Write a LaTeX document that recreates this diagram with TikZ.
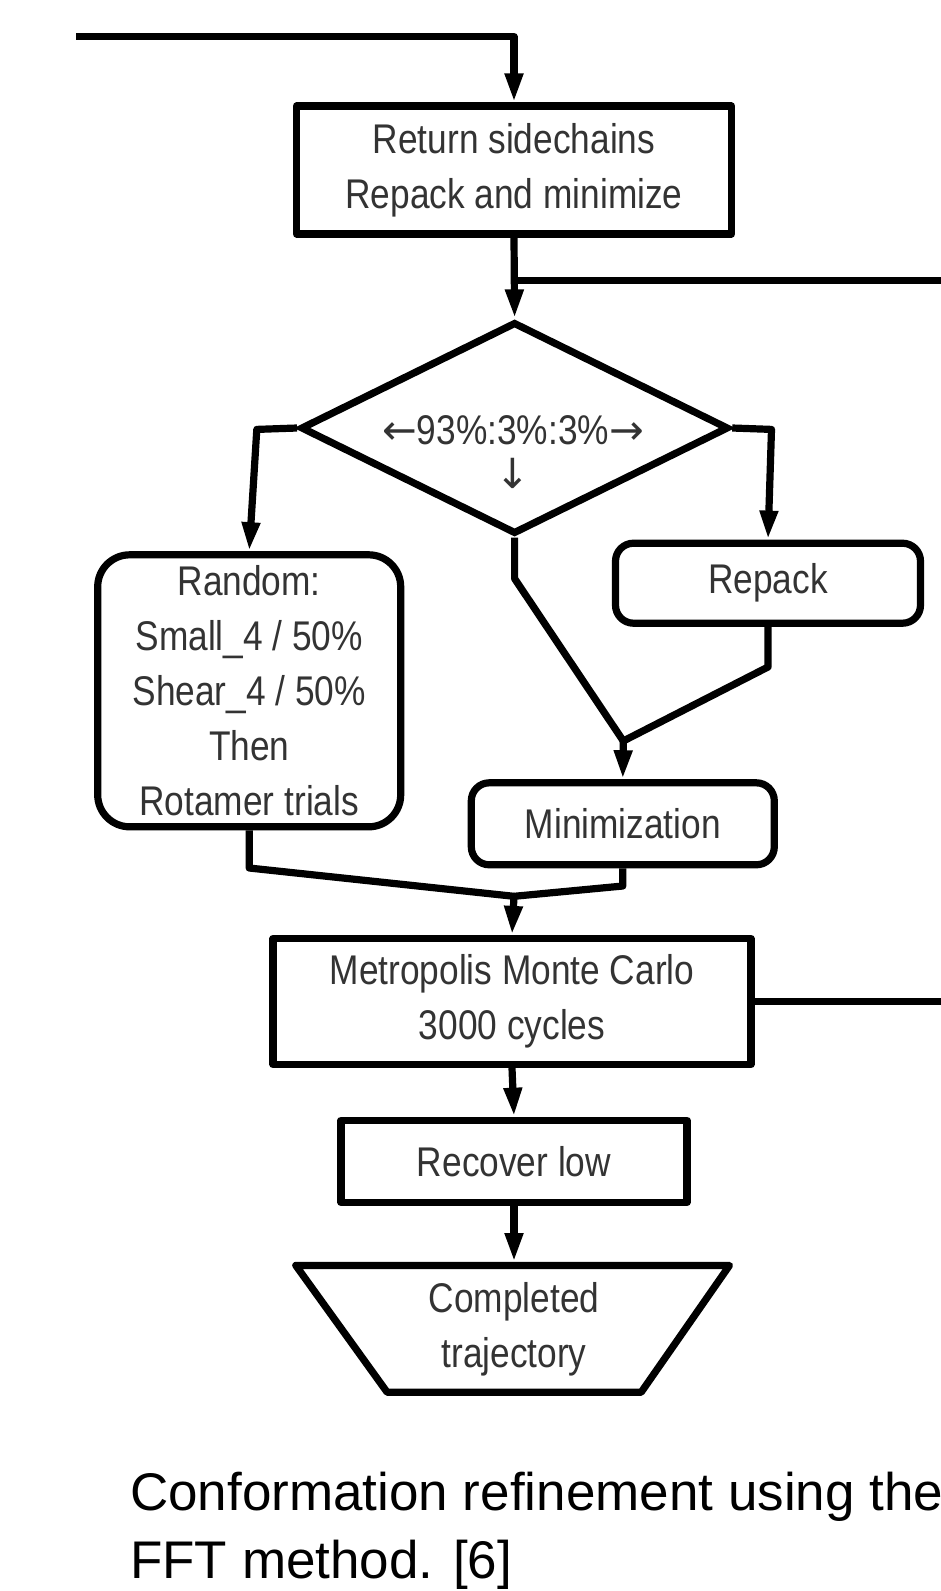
\documentclass[tikz,border=0pt]{standalone}
\usepackage{fontspec}
\setmainfont{Liberation Sans}
\newfontfamily\dfont[FakeStretch=0.85]{Liberation Sans}
\newfontfamily\arrfont{DejaVu Sans}
\usetikzlibrary{arrows.meta,shapes.geometric,calc}
\definecolor{txtgray}{HTML}{333333}
\tikzset{
  line/.style={line width=7.2pt, line join=round},
  arr/.style={line, -{Triangle[length=29pt,width=17pt]}},
  boxbase/.style={draw, line width=7.2pt, line join=round, align=center, inner sep=0pt,
    text=txtgray, font=\dfont\fontsize{41.5}{55}\selectfont},
  sqbox/.style={boxbase, rectangle},
  rbox/.style={boxbase, rectangle, rounded corners=18pt},
  bigrbox/.style={boxbase, rectangle, rounded corners=32pt},
  dtxt/.style={align=center, inner sep=0pt, text=txtgray, font=\dfont\fontsize{41.5}{44}\selectfont},
  captxt/.style={anchor=base west, inner sep=0pt, font=\fontsize{53}{68}\selectfont}
}
\begin{document}
\begin{tikzpicture}[x=1pt,y=-1pt]
\path[use as bounding box, clip] (0,0) rectangle (941,1591);
\fill[white] (0,0) rectangle (941,1591);

% nodes
\node[sqbox, minimum width=435pt, minimum height=128pt] (b1) at (514,170) {Return sidechains\\Repack and minimize};
\node[draw, diamond, line width=7.2pt, line join=miter, minimum width=428pt, minimum height=212pt, inner sep=0pt] (dia) at (514.6,428) {};
\node[dtxt] (dlab) at (513,452) {{\arrfont ←}93\%:3\%:3\%{\arrfont →}\\{\arrfont ↓}};
\node[bigrbox, minimum width=303pt, minimum height=272pt] (rand) at (249.2,690.8) {Random:\\Small\_4 / 50\%\\Shear\_4 / 50\%\\Then\\Rotamer trials};
\node[rbox, minimum width=305pt, minimum height=80pt] (rep) at (768,583.2) {Repack};
\node[rbox, minimum width=303pt, minimum height=82pt] (min) at (622.8,823.8) {Minimization};
\node[sqbox, minimum width=478pt, minimum height=126pt] (met) at (512,1001.5) {Metropolis Monte Carlo\\3000 cycles};
\node[sqbox, minimum width=346pt, minimum height=82pt] (rec) at (514,1161.3) {Recover low};
\node[dtxt, font=\dfont\fontsize{41.5}{55}\selectfont] (traj) at (514,1328.8) {Completed\\trajectory};

% trapezoid outline
\coordinate (ttl) at (295.8,1265.4);
\coordinate (ttr) at (729.5,1265.4);
\coordinate (tbr) at (641.2,1392.2);
\coordinate (tbl) at (387.1,1392.2);
\coordinate (ttop) at (514,1262);
\draw[line] (ttl) -- (ttr) -- (tbr) -- (tbl) -- cycle;

% free-end coordinates
\coordinate (tin) at (76,36.5);
\coordinate (bj) at (514,280.2);
\coordinate (rout1) at (945,280.2);
\coordinate (rout2) at (945,1001.5);
\coordinate (dl) at (256.8,429.4);
\coordinate (dr) at (771.5,429.4);
\coordinate (m1) at (514.6,578.6);
\coordinate (mj) at (623.3,741);
\coordinate (r1) at (768,667);
\coordinate (l1) at (249.2,868);
\coordinate (n1) at (622.8,886);
\coordinate (cj) at (514,896.3);

% connectors
\draw[arr] (tin) -| (b1.north);
\draw[arr] (b1.south) -- (dia.north);
\draw[line] (bj) -- (rout1);
\draw[arr] (dia.west) -- (dl) -- (rand.north);
\draw[arr] (dia.east) -- (dr) -- (rep.north);
\draw[line] (dia.south) -- (m1) -- (mj);
\draw[line] (rep.south) -- (r1) -- (mj);
\draw[arr] (mj) -- (min.north);
\draw[line] (rand.south) -- (l1) -- (cj);
\draw[line] (min.south) -- (n1) -- (cj);
\draw[arr] (cj) -- (met.north);
\draw[line] (met.east) -- (rout2);
\draw[arr] (met.south) -- (rec.north);
\draw[arr] (rec.south) -- (ttop);

% caption
\node[captxt] (cap1) at (130,1510) {Conformation refinement using the};
\node[captxt] (cap2) at (130,1578) {FFT method. [6]};
\end{tikzpicture}
\end{document}
